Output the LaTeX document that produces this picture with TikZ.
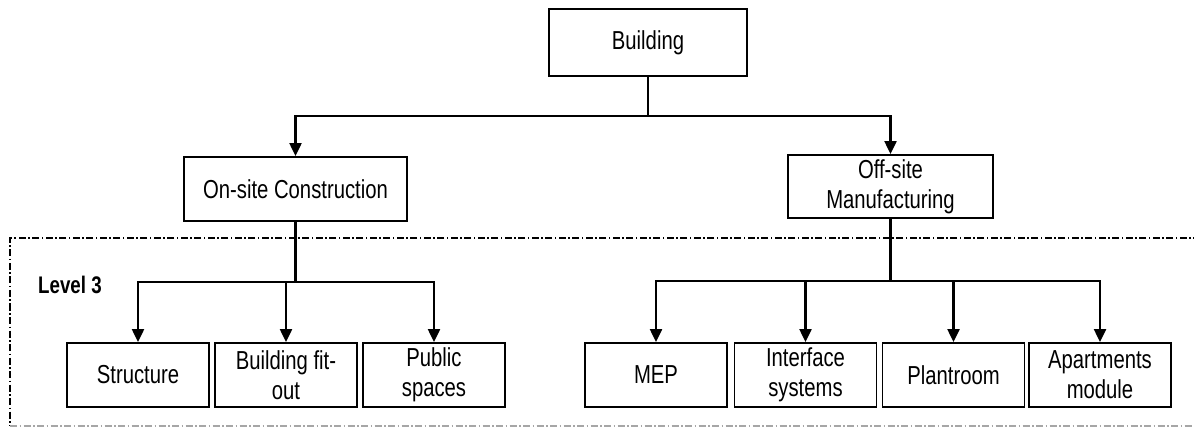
\documentclass[tikz,border=0pt]{standalone}
\usepackage{fontspec}
\setmainfont[FakeStretch=0.78]{Liberation Sans}
\usetikzlibrary{arrows.meta}
\begin{document}
\begin{tikzpicture}[x=1pt,y=-1pt,
  box/.style={draw, line width=1.9pt, inner sep=0pt, align=center,
    font=\fontsize{26}{30}\selectfont},
  topbox/.style={box, minimum width=198pt, minimum height=67pt},
  onbox/.style={box, minimum width=223pt, minimum height=64pt},
  offbox/.style={box, minimum width=205pt, minimum height=63pt},
  leaf/.style={box, minimum width=142pt, minimum height=64pt},
  conn/.style={line width=2.3pt, -{Triangle[width=12pt,length=13pt]}},
  bus/.style={line width=2.3pt},
  frame/.style={line width=1.3pt, dash pattern=on 7pt off 2.5pt on 1.5pt off 2.5pt}]
\useasboundingbox (0,0) rectangle (1194,430);

% level 3 frame
\draw[frame] (1200,238) -- (10,238) -- (10,426);
\draw[frame, black!35] (10,426) -- (1200,426);
\node[font=\bfseries\fontsize{24}{28}\selectfont, anchor=west, inner sep=0pt] (lvl) at (38,285) {Level 3};

% boxes
\node[topbox] (bld) at (648,42.5) {Building};
\node[onbox] (on) at (295.5,189) {On-site Construction};
\node[offbox] (off) at (890.5,186.5) {Off-site\\Manufacturing};

\node[leaf] (str) at (138,375) {Structure};
\node[leaf] (fit) at (286,375) {Building fit-\\out};
\node[leaf] (pub) at (434,375) {Public\\spaces};

\node[leaf] (mep) at (656,375) {MEP};
\node[leaf] (ifs) at (805.5,375) {Interface\\systems};
\node[leaf] (plr) at (953.5,375) {Plantroom};
\node[leaf] (apt) at (1100,375) {Apartments\\module};

% connectors
\coordinate (busA) at (648,116);
\draw[bus] (bld.south) -- (busA);
\draw[conn] (busA) -| (on.north);
\draw[conn] (busA) -| (off.north);

\coordinate (busB) at (295.5,282);
\draw[bus] (on.south) -- (busB);
\draw[conn] (busB) -| (str.north);
\draw[conn] (busB) -| (fit.north);
\draw[conn] (busB) -| (pub.north);

\coordinate (busC) at (890.5,281);
\draw[bus] (off.south) -- (busC);
\draw[conn] (busC) -| (mep.north);
\draw[conn] (busC) -| (ifs.north);
\draw[conn] (busC) -| (plr.north);
\draw[conn] (busC) -| (apt.north);
\end{tikzpicture}
\end{document}
